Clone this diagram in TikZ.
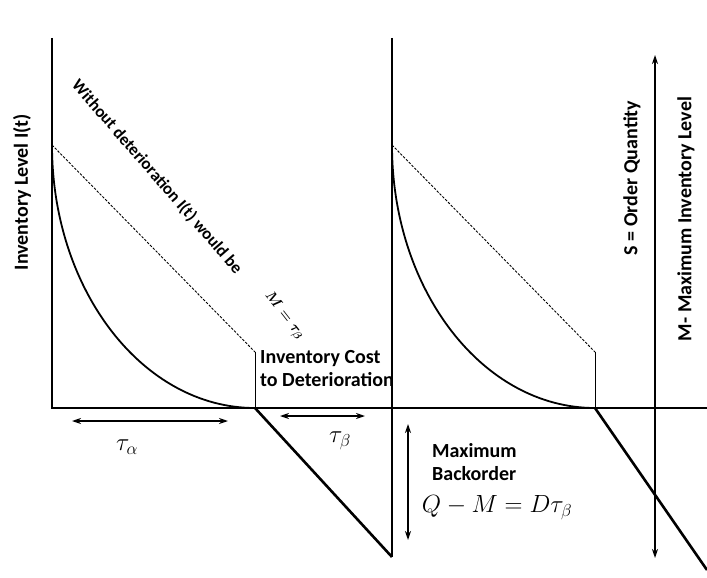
\documentclass[tikz,border=0pt]{standalone}
\usepackage{fontspec}
\setmainfont{Carlito}
\usetikzlibrary{arrows.meta}

\begin{document}
\begin{tikzpicture}[
  x=1pt, y=-1pt,
  axis/.style={line width=2.6pt},
  decay/.style={line width=1.8pt},
  ideal/.style={line width=0.9pt,dash pattern=on 2.5pt off 1.5pt},
  span/.style={<->,>={Stealth[length=9pt,width=6pt]},line width=1.4pt},
  lbl/.style={font=\bfseries\fontsize{20}{23}\selectfont,inner sep=0pt},
  sym/.style={font=\fontsize{24}{28}\selectfont,inner sep=0pt}
]
\useasboundingbox (0,0) rectangle (707,578);

% Axes
\coordinate (top1) at (52,38);
\coordinate (O1) at (52,408);
\coordinate (top2) at (392,38);
\coordinate (low2) at (392,557);
\coordinate (xend) at (707,408);
\draw[axis] (top1) -- (O1) -- (xend);
\draw[axis] (top2) -- (low2);

% First cycle
\coordinate (s1) at (52,145);
\coordinate (e1) at (255,408);
\coordinate (d1) at (255,352);
\draw[decay] (s1) .. controls (52,290.3) and (142.9,408) .. (e1);
\draw[ideal] (s1) -- (d1);
\draw[line width=1pt] (d1) -- (e1);
\draw[axis] (e1) -- (low2);

% Second cycle
\coordinate (s2) at (392,145);
\coordinate (e2) at (595,408);
\coordinate (d2) at (595,352);
\coordinate (low3) at (707,570);
\draw[decay] (s2) .. controls (392,290.3) and (482.9,408) .. (e2);
\draw[ideal] (s2) -- (d2);
\draw[line width=1pt] (d2) -- (e2);
\draw[axis] (e2) -- (low3);

% Spans
\coordinate (a1) at (72,421);
\coordinate (a2) at (228,421);
\coordinate (b1) at (280,416);
\coordinate (b2) at (365,416);
\coordinate (m1) at (408,424);
\coordinate (m2) at (408,540);
\coordinate (q1) at (655,55);
\coordinate (q2) at (655,558);
\draw[span] (a1) -- (a2);
\draw[span] (b1) -- (b2);
\draw[span] (m1) -- (m2);
\draw[span] (q1) -- (q2);

% Labels
\node[lbl,rotate=90] (level) at (22,192) {Inventory Level I(t)};
\node[lbl,rotate=-49,font=\bfseries\fontsize{17}{20}\selectfont] (without) at (157,177) {Without deterioration I(t) would be};
\node[sym,rotate=-52,font=\boldmath\fontsize{15}{17}\selectfont] (mtau) at (284,316) {$M=\tau_\beta$};
\node[lbl,align=left,anchor=north west] (cost) at (260,350) {Inventory Cost\\to Deterioration};
\node[sym] (talpha) at (127,447) {$\tau_\alpha$};
\node[sym] (tbeta) at (340,441) {$\tau_\beta$};
\node[lbl,align=left,anchor=north west] (back) at (432,443) {Maximum\\Backorder};
\node[sym,font=\fontsize{23.5}{28}\selectfont] (qm) at (497,508) {$Q-M=D\tau_\beta$};
\node[lbl,rotate=90] (order) at (632,178) {S = Order Quantity};
\node[lbl,rotate=90] (maxlev) at (686,219) {M- Maximum Inventory Level};

\end{tikzpicture}
\end{document}
